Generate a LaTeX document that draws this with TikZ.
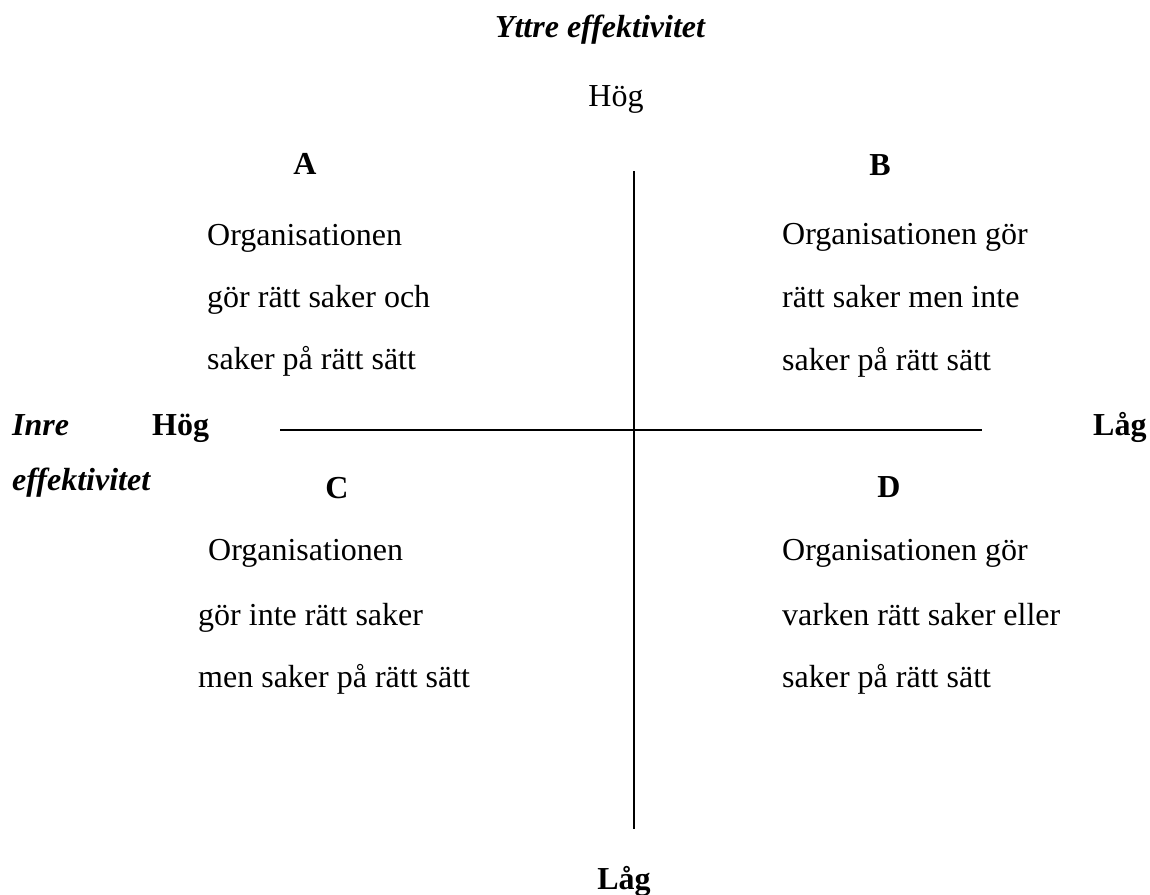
\documentclass[tikz,border=0pt]{standalone}
\usepackage{fontspec}
\setmainfont{Liberation Serif}
\begin{document}
\begin{tikzpicture}[x=1pt,y=-1pt,
  txt/.style={inner sep=0pt,anchor=base west,font=\fontsize{32}{38}\selectfont},
  ctxt/.style={inner sep=0pt,anchor=base,font=\fontsize{32}{38}\selectfont},
  lbl/.style={inner sep=0pt,anchor=base,font=\fontsize{32}{38}\selectfont\bfseries},
  lblw/.style={inner sep=0pt,anchor=base west,font=\fontsize{32}{38}\selectfont\bfseries},
  axisname/.style={inner sep=0pt,anchor=base west,font=\fontsize{32}{38}\selectfont\bfseries\itshape},
  axisline/.style={line width=1.5pt}]
\path[fill=white] (0,0) rectangle (1150,894);
\useasboundingbox (0,0) rectangle (1150,894);

% vertical axis: outer efficiency
\node[inner sep=0pt,anchor=base,font=\fontsize{32}{38}\selectfont\bfseries\itshape] (yttre) at (600,37) {Yttre effektivitet};
\node[ctxt] (vhog) at (616,106) {Hög};
\node[lbl] (vlag) at (624,889) {Låg};

% horizontal axis: inner efficiency
\node[axisname] (inre) at (12,435) {Inre};
\node[axisname] (eff) at (12,490) {effektivitet};
\node[lblw] (hhog) at (152,435) {Hög};
\node[lblw] (hlag) at (1093,435) {Låg};

% axes
\coordinate (vt) at (634,171);
\coordinate (vb) at (634,829);
\coordinate (hl) at (280,430);
\coordinate (hr) at (982,430);
\draw[axisline] (vt) -- (vb);
\draw[axisline] (hl) -- (hr);

% quadrant A
\node[lbl] (qa) at (305,174) {A};
\node[txt] (a1) at (207,245) {Organisationen};
\node[txt] (a2) at (207,307) {gör rätt saker och};
\node[txt] (a3) at (207,369) {saker på rätt sätt};

% quadrant B
\node[lbl] (qb) at (880,175) {B};
\node[txt] (b1) at (782,244) {Organisationen gör};
\node[txt] (b2) at (782,307) {rätt saker men inte};
\node[txt] (b3) at (782,370) {saker på rätt sätt};

% quadrant C
\node[lbl] (qc) at (337,498) {C};
\node[txt] (c1) at (208,560) {Organisationen};
\node[txt] (c2) at (198,625) {gör inte rätt saker};
\node[txt] (c3) at (198,687) {men saker på rätt sätt};

% quadrant D
\node[lbl] (qd) at (889,497) {D};
\node[txt] (d1) at (782,560) {Organisationen gör};
\node[txt] (d2) at (782,625) {varken rätt saker eller};
\node[txt] (d3) at (782,687) {saker på rätt sätt};
\end{tikzpicture}
\end{document}
